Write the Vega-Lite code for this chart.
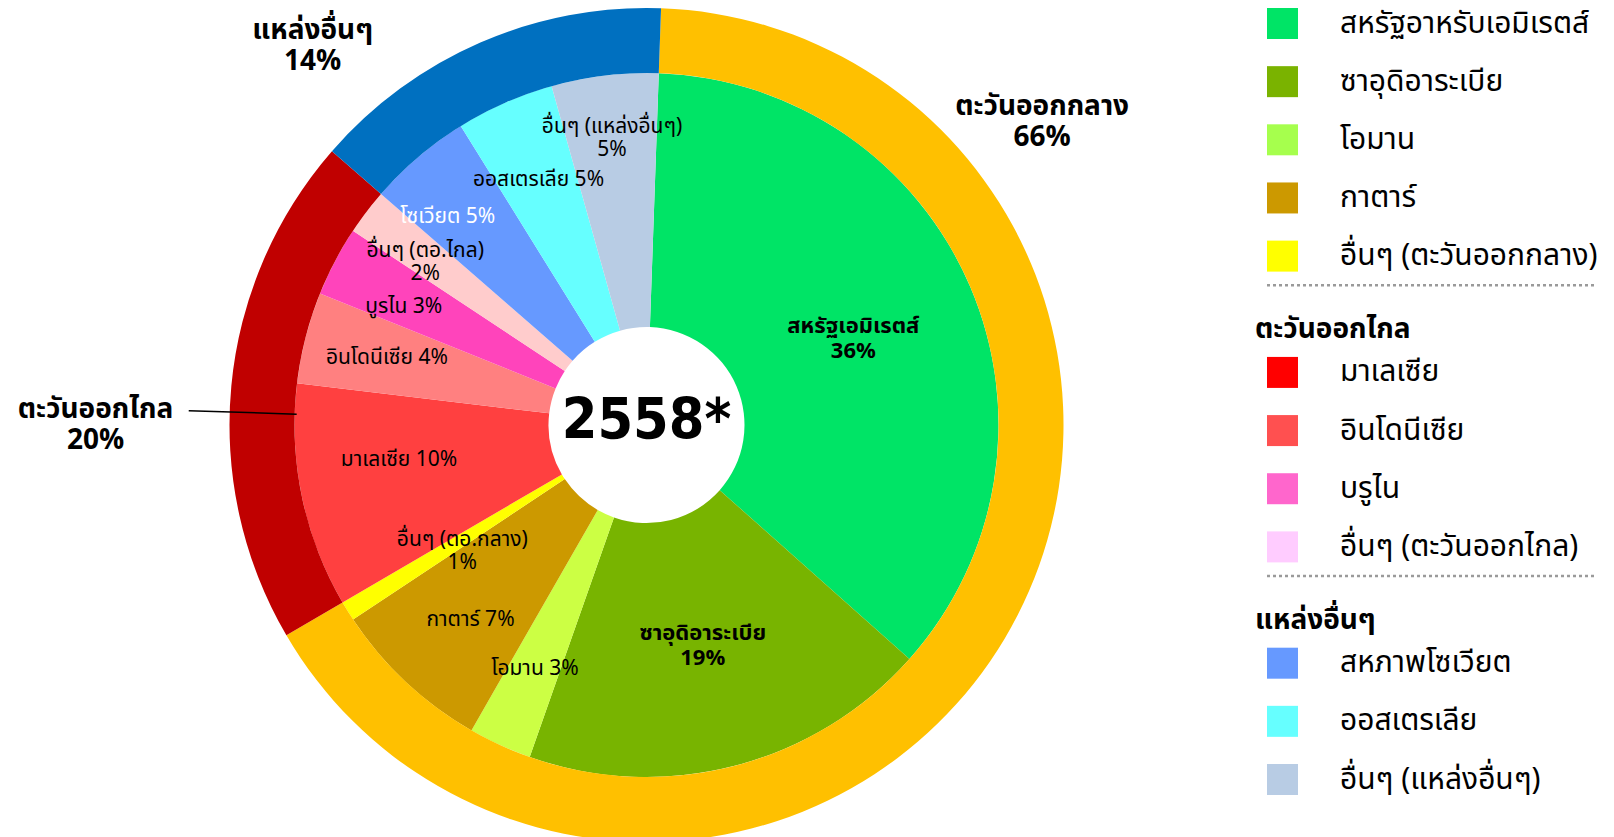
{
  "$schema": "https://vega.github.io/schema/vega-lite/v6.json",
  "padding": 0,
  "background": "white",
  "spacing": 0,
  "bounds": "flush",
  "config": {"view": {"stroke": null}, "font": "Tahoma, Noto Sans Thai, Noto Sans, DejaVu Sans, sans-serif"},
  "datasets": {
    "inner": [
      {"idx": 1, "name": "สหรัฐอาหรับเอมิเรตส์", "lbl": "สหรัฐเอมิเรตส์\n36%", "value": 36.0},
      {"idx": 2, "name": "ซาอุดิอาระเบีย", "lbl": "ซาอุดิอาระเบีย\n19%", "value": 18.8},
      {"idx": 3, "name": "โอมาน", "lbl": "โอมาน 3%", "value": 2.9},
      {"idx": 4, "name": "กาตาร์", "lbl": "กาตาร์ 7%", "value": 7.4},
      {"idx": 5, "name": "อื่นๆ (ตะวันออกกลาง)", "lbl": "อื่นๆ (ตอ.กลาง)\n1%", "value": 0.9},
      {"idx": 6, "name": "มาเลเซีย", "lbl": "มาเลเซีย 10%", "value": 10.3},
      {"idx": 7, "name": "อินโดนีเซีย", "lbl": "อินโดนีเซีย 4%", "value": 4.2},
      {"idx": 8, "name": "บรูไน", "lbl": "บูรไน 3%", "value": 3.2},
      {"idx": 9, "name": "อื่นๆ (ตะวันออกไกล)", "lbl": "อื่นๆ (ตอ.ไกล)\n2%", "value": 2.1},
      {"idx": 10, "name": "สหภาพโซเวียต", "lbl": "โซเวียต 5%", "value": 4.75},
      {"idx": 11, "name": "ออสเตรเลีย", "lbl": "ออสเตรเลีย 5%", "value": 4.5},
      {"idx": 12, "name": "อื่นๆ (แหล่งอื่นๆ)", "lbl": "อื่นๆ (แหล่งอื่นๆ)\n5%", "value": 4.9}
    ],
    "regions": [
      {"idx": 1, "region": "ตะวันออกกลาง", "lbl": "ตะวันออกกลาง\n66%", "value": 66.0},
      {"idx": 2, "region": "ตะวันออกไกล", "lbl": "ตะวันออกไกล\n20%", "value": 19.8},
      {"idx": 3, "region": "แหล่งอื่นๆ", "lbl": "แหล่งอื่นๆ\n14%", "value": 14.15}
    ],
    "center": [{"t": "2558*"}],
    "legend": [
      {"row": 1, "kind": "item", "label": "สหรัฐอาหรับเอมิเรตส์"},
      {"row": 2, "kind": "item", "label": "ซาอุดิอาระเบีย"},
      {"row": 3, "kind": "item", "label": "โอมาน"},
      {"row": 4, "kind": "item", "label": "กาตาร์"},
      {"row": 5, "kind": "item", "label": "อื่นๆ (ตะวันออกกลาง)"},
      {"row": 6, "kind": "head", "label": "ตะวันออกไกล"},
      {"row": 7, "kind": "item", "label": "มาเลเซีย"},
      {"row": 8, "kind": "item", "label": "อินโดนีเซีย"},
      {"row": 9, "kind": "item", "label": "บรูไน"},
      {"row": 10, "kind": "item", "label": "อื่นๆ (ตะวันออกไกล)"},
      {"row": 11, "kind": "head", "label": "แหล่งอื่นๆ"},
      {"row": 12, "kind": "item", "label": "สหภาพโซเวียต"},
      {"row": 13, "kind": "item", "label": "ออสเตรเลีย"},
      {"row": 14, "kind": "item", "label": "อื่นๆ (แหล่งอื่นๆ)"}
    ]
  },
  "hconcat": [
    {
      "width": 1293,
      "height": 850,
      "layer": [
        {
          "data": {"name": "inner"},
          "mark": {"type": "arc", "innerRadius": 98, "outerRadius": 352},
          "encoding": {
            "theta": {"field": "value", "type": "quantitative", "stack": true, "scale": {"domain": [0, 99.95], "range": [0.0349, 6.3181]}},
            "order": {"field": "idx", "type": "quantitative"},
            "color": {"field": "name", "type": "nominal", "legend": null,
              "scale": {"domain": ["สหรัฐอาหรับเอมิเรตส์", "ซาอุดิอาระเบีย", "โอมาน", "กาตาร์", "อื่นๆ (ตะวันออกกลาง)", "มาเลเซีย", "อินโดนีเซีย", "บรูไน", "อื่นๆ (ตะวันออกไกล)", "สหภาพโซเวียต", "ออสเตรเลีย", "อื่นๆ (แหล่งอื่นๆ)"],
                "range": ["#00e466", "#78b400", "#ccff44", "#cc9900", "#ffff00", "#ff4040", "#ff8080", "#ff44bb", "#ffcccc", "#6699ff", "#66ffff", "#b8cce4"]}}
          }
        },
        {
          "data": {"name": "regions"},
          "mark": {"type": "arc", "innerRadius": 352, "outerRadius": 417},
          "encoding": {
            "theta": {"field": "value", "type": "quantitative", "stack": true, "scale": {"domain": [0, 99.95], "range": [0.0349, 6.3181]}},
            "order": {"field": "idx", "type": "quantitative"},
            "color": {"field": "region", "type": "nominal", "legend": null,
              "scale": {"domain": ["ตะวันออกกลาง", "ตะวันออกไกล", "แหล่งอื่นๆ"], "range": ["#ffc000", "#c00000", "#0070c0"]}}
          }
        },
        {
          "data": {"name": "regions"},
          "mark": {"type": "arc", "innerRadius": 350, "outerRadius": 458, "padAngle": 1.1, "thetaOffset": -0.0628, "fill": "black", "stroke": "black", "strokeWidth": 1.5},
          "encoding": {
            "theta": {"field": "value", "type": "quantitative", "stack": true},
            "order": {"field": "idx", "type": "quantitative"},
            "detail": {"field": "region", "type": "nominal"},
            "opacity": {"condition": {"test": "datum.region == 'ตะวันออกไกล'", "value": 1}, "value": 0}
          }
        },
        {
          "data": {"name": "inner"},
          "mark": {"type": "text", "radius": 225, "dy": -10, "fontSize": 22, "fontWeight": "bold", "lineBreak": "\n", "lineHeight": 25, "color": "black"},
          "encoding": {
            "theta": {"field": "value", "type": "quantitative", "stack": true},
            "order": {"field": "idx", "type": "quantitative"},
            "detail": {"field": "name", "type": "nominal"},
            "text": {"condition": {"test": "indexof(['สหรัฐอาหรับเอมิเรตส์','ซาอุดิอาระเบีย'], datum.name) >= 0", "field": "lbl"}, "value": ""}
          }
        },
        {
          "data": {"name": "inner"},
          "mark": {"type": "text", "radius": 217, "fontSize": 21, "lineBreak": "\n", "lineHeight": 23, "color": "black"},
          "encoding": {
            "theta": {"field": "value", "type": "quantitative", "stack": true},
            "order": {"field": "idx", "type": "quantitative"},
            "detail": {"field": "name", "type": "nominal"},
            "text": {"condition": {"test": "datum.name == 'อื่นๆ (ตะวันออกกลาง)'", "field": "lbl"}, "value": ""}
          }
        },
        {
          "data": {"name": "inner"},
          "mark": {"type": "text", "radius": 250, "thetaOffset": 0.063, "fontSize": 21, "color": "black"},
          "encoding": {
            "theta": {"field": "value", "type": "quantitative", "stack": true},
            "order": {"field": "idx", "type": "quantitative"},
            "detail": {"field": "name", "type": "nominal"},
            "text": {"condition": {"test": "datum.name == 'มาเลเซีย'", "field": "lbl"}, "value": ""}
          }
        },
        {
          "data": {"name": "inner"},
          "mark": {"type": "text", "radius": 268, "fontSize": 21, "color": "black"},
          "encoding": {
            "theta": {"field": "value", "type": "quantitative", "stack": true},
            "order": {"field": "idx", "type": "quantitative"},
            "detail": {"field": "name", "type": "nominal"},
            "text": {"condition": {"test": "indexof(['โอมาน','อินโดนีเซีย','ออสเตรเลีย'], datum.name) >= 0", "field": "lbl"}, "value": ""}
          }
        },
        {
          "data": {"name": "inner"},
          "mark": {"type": "text", "radius": 263, "thetaOffset": -0.02, "fontSize": 21, "color": "black"},
          "encoding": {
            "theta": {"field": "value", "type": "quantitative", "stack": true},
            "order": {"field": "idx", "type": "quantitative"},
            "detail": {"field": "name", "type": "nominal"},
            "text": {"condition": {"test": "datum.name == 'กาตาร์'", "field": "lbl"}, "value": ""}
          }
        },
        {
          "data": {"name": "inner"},
          "mark": {"type": "text", "radius": 270, "thetaOffset": -0.03, "fontSize": 21, "color": "black"},
          "encoding": {
            "theta": {"field": "value", "type": "quantitative", "stack": true},
            "order": {"field": "idx", "type": "quantitative"},
            "detail": {"field": "name", "type": "nominal"},
            "text": {"condition": {"test": "datum.name == 'บรูไน'", "field": "lbl"}, "value": ""}
          }
        },
        {
          "data": {"name": "inner"},
          "mark": {"type": "text", "radius": 278, "dy": -6, "fontSize": 21, "lineBreak": "\n", "lineHeight": 23, "color": "black"},
          "encoding": {
            "theta": {"field": "value", "type": "quantitative", "stack": true},
            "order": {"field": "idx", "type": "quantitative"},
            "detail": {"field": "name", "type": "nominal"},
            "text": {"condition": {"test": "datum.name == 'อื่นๆ (ตะวันออกไกล)'", "field": "lbl"}, "value": ""}
          }
        },
        {
          "data": {"name": "inner"},
          "mark": {"type": "text", "radius": 290, "dy": -10, "fontSize": 21, "lineBreak": "\n", "lineHeight": 23, "color": "black"},
          "encoding": {
            "theta": {"field": "value", "type": "quantitative", "stack": true},
            "order": {"field": "idx", "type": "quantitative"},
            "detail": {"field": "name", "type": "nominal"},
            "text": {"condition": {"test": "datum.name == 'อื่นๆ (แหล่งอื่นๆ)'", "field": "lbl"}, "value": ""}
          }
        },
        {
          "data": {"name": "inner"},
          "mark": {"type": "text", "radius": 288, "thetaOffset": -0.056, "fontSize": 21, "color": "white"},
          "encoding": {
            "theta": {"field": "value", "type": "quantitative", "stack": true},
            "order": {"field": "idx", "type": "quantitative"},
            "detail": {"field": "name", "type": "nominal"},
            "text": {"condition": {"test": "datum.name == 'สหภาพโซเวียต'", "field": "lbl"}, "value": ""}
          }
        },
        {
          "data": {"name": "regions"},
          "mark": {"type": "text", "clip": true, "radius": 498, "thetaOffset": -1.1914, "dy": -15.5, "fontSize": 28, "fontWeight": "bold", "lineBreak": "\n", "lineHeight": 31, "color": "black"},
          "encoding": {
            "theta": {"field": "value", "type": "quantitative", "stack": true},
            "order": {"field": "idx", "type": "quantitative"},
            "detail": {"field": "region", "type": "nominal"},
            "text": {"condition": {"test": "datum.region == 'ตะวันออกกลาง'", "field": "lbl"}, "value": ""}
          }
        },
        {
          "data": {"name": "regions"},
          "mark": {"type": "text", "clip": true, "radius": 551, "thetaOffset": -0.0939, "dy": -15.5, "fontSize": 28, "fontWeight": "bold", "lineBreak": "\n", "lineHeight": 31, "color": "black"},
          "encoding": {
            "theta": {"field": "value", "type": "quantitative", "stack": true},
            "order": {"field": "idx", "type": "quantitative"},
            "detail": {"field": "region", "type": "nominal"},
            "text": {"condition": {"test": "datum.region == 'ตะวันออกไกล'", "field": "lbl"}, "value": ""}
          }
        },
        {
          "data": {"name": "regions"},
          "mark": {"type": "text", "clip": true, "radius": 505, "thetaOffset": -0.3124, "dy": -15.5, "fontSize": 28, "fontWeight": "bold", "lineBreak": "\n", "lineHeight": 31, "color": "black"},
          "encoding": {
            "theta": {"field": "value", "type": "quantitative", "stack": true},
            "order": {"field": "idx", "type": "quantitative"},
            "detail": {"field": "region", "type": "nominal"},
            "text": {"condition": {"test": "datum.region == 'แหล่งอื่นๆ'", "field": "lbl"}, "value": ""}
          }
        },
        {
          "data": {"name": "center"},
          "mark": {"type": "text", "fontSize": 57, "fontWeight": "bold", "font": "DejaVu Sans Condensed, Liberation Sans, sans-serif", "dy": -3, "color": "black"},
          "encoding": {"text": {"field": "t", "type": "nominal"}}
        }
      ],
      "resolve": {"scale": {"color": "independent"}}
    },
    {
      "width": 304,
      "height": 850,
      "data": {"name": "legend"},
      "encoding": {
        "y": {"field": "row", "type": "ordinal", "scale": {"type": "point", "padding": 0, "range": [23.5, 779.5]}, "axis": null}
      },
      "layer": [
        {
          "transform": [{"filter": "datum.kind == 'item'"}],
          "mark": {"type": "square", "size": 961, "filled": true, "opacity": 1, "xOffset": -162.5},
          "encoding": {
            "color": {"field": "label", "type": "nominal", "legend": null,
              "scale": {"domain": ["สหรัฐอาหรับเอมิเรตส์", "ซาอุดิอาระเบีย", "โอมาน", "กาตาร์", "อื่นๆ (ตะวันออกกลาง)", "มาเลเซีย", "อินโดนีเซีย", "บรูไน", "อื่นๆ (ตะวันออกไกล)", "สหภาพโซเวียต", "ออสเตรเลีย", "อื่นๆ (แหล่งอื่นๆ)"],
                "range": ["#00e466", "#7ab300", "#a6ff4d", "#cc9900", "#ffff00", "#ff0000", "#ff5050", "#ff66cc", "#ffccff", "#6699ff", "#66ffff", "#b8cce4"]}}
          }
        },
        {
          "transform": [{"filter": "datum.kind == 'item'"}],
          "mark": {"type": "text", "align": "left", "dx": -105, "fontSize": 30, "color": "black"},
          "encoding": {"text": {"field": "label", "type": "nominal"}}
        },
        {
          "transform": [{"filter": "datum.kind == 'head'"}],
          "mark": {"type": "text", "align": "left", "dx": -190, "dy": 16, "fontSize": 28, "fontWeight": "bold", "color": "black"},
          "encoding": {"text": {"field": "label", "type": "nominal"}}
        },
        {
          "transform": [{"filter": "datum.kind == 'head'"}],
          "mark": {"type": "rule", "xOffset": -26, "x2Offset": 0, "yOffset": -29, "strokeWidth": 2.5, "strokeDash": [3, 3], "color": "#9a9a9a"},
          "encoding": {"x": {"value": 0}, "x2": {"value": "width"}}
        }
      ]
    }
  ]
}
